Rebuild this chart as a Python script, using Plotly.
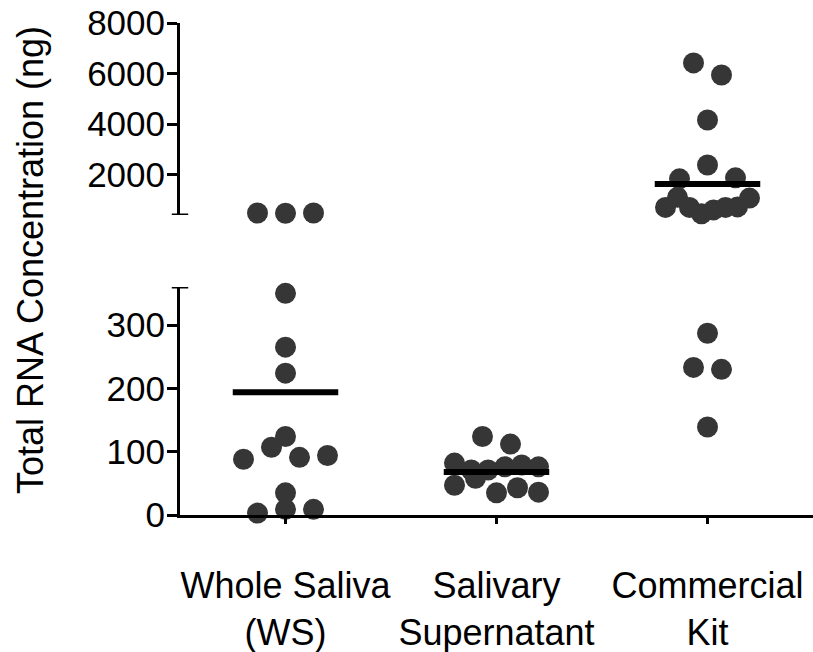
import plotly.graph_objects as go

# ---- data (ng of total RNA per sample) ----
groups = ["Whole Saliva<br>(WS)", "Salivary<br>Supernatant", "Commercial<br>Kit"]

whole_saliva = [480, 470, 480, 350, 265, 224, 124, 88, 107, 91, 94, 3, 35, 9, 9]
supernatant = [124, 112, 82, 71, 71, 76, 79, 76, 47, 58, 35, 43, 36]
commercial_kit = [6420, 5940, 4160, 1830, 2380, 1870,
                  700, 1100, 700, 450, 600, 700, 720, 1070,
                  287, 233, 230, 139]
group_means = [194, 68, 1630]

lower_ticks = [0, 100, 200, 300]
upper_ticks = [2000, 4000, 6000, 8000]
lower_range = [0, 360]
upper_range = [400, 8000]

# ---- layout geometry ----
W, H = 813, 652
ML, MR, MT, MB = 180, 0, 23, 137
plot_w = W - ML - MR
plot_h = H - MT - MB
lower_dom = [0, 228 / plot_h]
upper_dom = [300 / plot_h, 1]
x_range = [-0.5, len(groups) - 0.5]

px_per_x = plot_w / (x_range[1] - x_range[0])
k_lo = (lower_dom[1] - lower_dom[0]) * plot_h / (lower_range[1] - lower_range[0])
k_up = (upper_dom[1] - upper_dom[0]) * plot_h / (upper_range[1] - upper_range[0])

DOT = 21          # marker diameter (px)
ROW_H = 20        # points closer than this (px) share a row
ROW_STEP = 28     # preferred spacing between dots in a row (px)
ROW_HALF = 42     # widest half-spread of a row (px)


def screen_y(v):
    if v <= lower_range[1]:
        return lower_dom[0] * plot_h + (v - lower_range[0]) * k_lo
    return upper_dom[0] * plot_h + (v - upper_range[0]) * k_up


def scatter_offsets(values):
    """Spread dots of similar value sideways in rows, centred on the group."""
    idx = sorted(range(len(values)), key=lambda i: screen_y(values[i]))
    rows, cur = [], []
    for i in idx:
        if cur and screen_y(values[i]) - screen_y(values[cur[0]]) >= ROW_H:
            rows.append(cur)
            cur = []
        cur.append(i)
    if cur:
        rows.append(cur)
    offsets = [0.0] * len(values)
    for row in rows:
        row = sorted(row)  # keep listed order left to right
        n = len(row)
        step = ROW_STEP if n < 2 else min(ROW_STEP, 2 * ROW_HALF / (n - 1))
        for k, i in enumerate(row):
            offsets[i] = (k - (n - 1) / 2) * step / px_per_x
    return offsets


fig = go.Figure()
dot_color = "#363636"

for gi, vals in enumerate([whole_saliva, supernatant, commercial_kit]):
    offs = scatter_offsets(vals)
    lo = [(gi + o, v) for o, v in zip(offs, vals) if v <= lower_range[1]]
    up = [(gi + o, v) for o, v in zip(offs, vals) if v > lower_range[1]]
    common = dict(mode="markers", cliponaxis=False, showlegend=False,
                  marker=dict(size=DOT, color=dot_color, line=dict(width=0)))
    if lo:
        fig.add_trace(go.Scatter(x=[p[0] for p in lo], y=[p[1] for p in lo],
                                 yaxis="y", **common))
    if up:
        fig.add_trace(go.Scatter(x=[p[0] for p in up], y=[p[1] for p in up],
                                 yaxis="y2", **common))

# group mean bars
for gi, m in enumerate(group_means):
    fig.add_trace(go.Scatter(
        x=[gi - 0.25, gi + 0.25], y=[m, m],
        yaxis="y" if m <= lower_range[1] else "y2",
        mode="lines", line=dict(color="black", width=6),
        cliponaxis=False, showlegend=False))

family = "Liberation Sans, Arial, sans-serif"
label_font = dict(family=family, size=36, color="black")
tick_font = dict(family=family, size=35, color="black")
axis_common = dict(showline=True, linecolor="black", linewidth=3,
                   ticks="outside", tickcolor="black", tickwidth=3, ticklen=10,
                   showgrid=False, zeroline=False, tickfont=tick_font,
                   ticklabelstandoff=-5)

fig.update_layout(
    width=W, height=H,
    margin=dict(l=ML, r=MR, t=MT, b=MB),
    paper_bgcolor="white", plot_bgcolor="white",
    xaxis=dict(range=x_range, tickvals=list(range(len(groups))), ticktext=groups,
               anchor="y", showline=True, linecolor="black", linewidth=3,
               ticks="outside", tickcolor="black", tickwidth=3, ticklen=6,
               showgrid=False, zeroline=False, tickfont=label_font,
               ticklabelstandoff=31),
    yaxis=dict(domain=lower_dom, range=lower_range, tickvals=lower_ticks,
               anchor="x", **axis_common),
    yaxis2=dict(domain=upper_dom, range=upper_range, tickvals=upper_ticks,
                anchor="x", **axis_common),
    shapes=[
        dict(type="line", xref="paper", yref="y2", x0=-0.013, x1=0.013,
             y0=upper_range[0], y1=upper_range[0],
             line=dict(color="black", width=3)),
        dict(type="line", xref="paper", yref="y", x0=-0.013, x1=0.013,
             y0=lower_range[1], y1=lower_range[1],
             line=dict(color="black", width=3)),
    ],
    annotations=[dict(text="Total RNA Concentration (ng)", textangle=-90,
                      xref="paper", yref="paper", x=-0.237, y=0.518,
                      xanchor="center", yanchor="middle", showarrow=False,
                      font=label_font)],
)

fig.write_html("out.html")
